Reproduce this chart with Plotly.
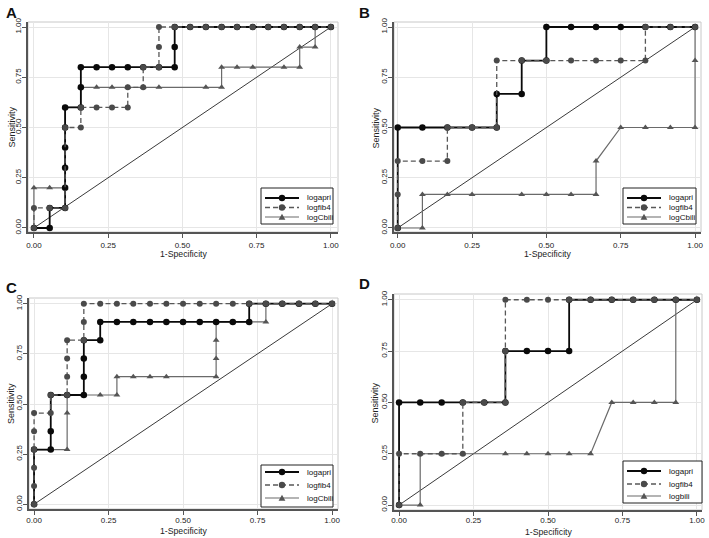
import plotly.graph_objects as go

# ---- datos de las curvas ROC ----
# Panel A
a_apri_x = [0, .053, .053, .105, .105, .105, .105, .105, .105, .158, .158, .158, .211, .263, .316, .368, .421, .474, .474, .474, .526, .579, .632, .684, .737, .789, .842, .895, .947, 1]
a_apri_y = [0, 0, .1, .1, .2, .3, .4, .5, .6, .6, .7, .8, .8, .8, .8, .8, .8, .8, .9, 1, 1, 1, 1, 1, 1, 1, 1, 1, 1, 1]
a_fib4_x = [0, 0, .053, .105, .105, .158, .158, .211, .263, .316, .316, .368, .368, .421, .421, .421, .474, .526, .579, .632, .684, .737, .789, .842, .895, .947, 1]
a_fib4_y = [0, .1, .1, .1, .5, .5, .6, .6, .6, .6, .7, .7, .8, .8, .9, 1, 1, 1, 1, 1, 1, 1, 1, 1, 1, 1, 1]
a_bili_x = [0, 0, .053, .105, .105, .158, .158, .211, .263, .316, .368, .421, .579, .632, .632, .684, .737, .842, .895, .895, .947, .947, 1]
a_bili_y = [0, .2, .2, .2, .6, .6, .7, .7, .7, .7, .7, .7, .7, .7, .8, .8, .8, .8, .8, .9, .9, 1, 1]

# Panel B
b_apri_x = [0, 0, .083, .167, .25, .333, .333, .417, .417, .5, .5, .583, .667, .75, .833, .917, 1]
b_apri_y = [0, .5, .5, .5, .5, .5, .667, .667, .833, .833, 1, 1, 1, 1, 1, 1, 1]
b_fib4_x = [0, 0, 0, .083, .167, .167, .25, .333, .333, .417, .5, .583, .667, .75, .833, .833, .917, 1]
b_fib4_y = [0, .167, .333, .333, .333, .5, .5, .5, .833, .833, .833, .833, .833, .833, .833, 1, 1, 1]
b_bili_x = [0, .083, .083, .167, .25, .417, .5, .583, .667, .667, .75, .833, .917, 1, 1, 1]
b_bili_y = [0, 0, .167, .167, .167, .167, .167, .167, .167, .333, .5, .5, .5, .5, .833, 1]

# Panel C
c_apri_x = [0, 0, .056, .056, .056, .111, .167, .167, .167, .167, .222, .222, .278, .333, .389, .444, .5, .556, .611, .667, .722, .722, .778, .833, .889, .944, 1]
c_apri_y = [0, .273, .273, .364, .545, .545, .545, .636, .727, .818, .818, .909, .909, .909, .909, .909, .909, .909, .909, .909, .909, 1, 1, 1, 1, 1, 1]
c_fib4_x = [0, 0, 0, 0, 0, 0, .056, .056, .111, .111, .111, .111, .167, .167, .167, .222, .278, .333, .389, .444, .5, .556, .611, .667, .722, .778, .833, .889, .944, 1]
c_fib4_y = [0, .091, .182, .273, .364, .455, .455, .545, .545, .636, .727, .818, .818, .909, 1, 1, 1, 1, 1, 1, 1, 1, 1, 1, 1, 1, 1, 1, 1, 1]
c_bili_x = [0, 0, .056, .111, .111, .111, .167, .222, .278, .278, .333, .389, .444, .611, .611, .611, .611, .667, .722, .778, .778, .833, .889, .944, 1]
c_bili_y = [0, .273, .273, .273, .455, .545, .545, .545, .545, .636, .636, .636, .636, .636, .727, .818, .909, .909, .909, .909, 1, 1, 1, 1, 1]

# Panel D
d_apri_x = [0, 0, .071, .143, .214, .286, .357, .357, .429, .5, .571, .571, .643, .714, .786, .857, .929, 1]
d_apri_y = [0, .5, .5, .5, .5, .5, .5, .75, .75, .75, .75, 1, 1, 1, 1, 1, 1, 1]
d_fib4_x = [0, 0, .071, .143, .214, .214, .286, .357, .357, .357, .429, .5, .571, .643, .714, .786, .857, .929, 1]
d_fib4_y = [0, .25, .25, .25, .25, .5, .5, .5, .75, 1, 1, 1, 1, 1, 1, 1, 1, 1, 1]
d_bili_x = [0, .071, .071, .143, .214, .357, .429, .5, .571, .643, .714, .786, .857, .929, .929, 1]
d_bili_y = [0, 0, .25, .25, .25, .25, .25, .25, .25, .25, .5, .5, .5, .5, 1, 1]

# linea de referencia
diag_x = [0, 1]
diag_y = [0, 1]

panel_letters = ["A", "B", "C", "D"]
names_abc = ["logapri", "logfib4", "logCbili"]
names_d = ["logapri", "logfib4", "logbili"]
tick_vals = [0, 0.25, 0.5, 0.75, 1]
tick_text = ["0.00", "0.25", "0.50", "0.75", "1.00"]
x_title = "1-Specificity"
y_title = "Sensitivity"

W, H = 709, 538
FONT = "Liberation Sans, Arial, sans-serif"

# estilos de cada serie
st_apri = dict(color="#0a0a0a", lw=1.8, dash="solid", sym="circle", mcol="#0a0a0a")
st_fib4 = dict(color="#585858", lw=1.3, dash="5px,3px", sym="circle", mcol="#4a4a4a")
st_bili = dict(color="#6a6a6a", lw=1.2, dash="solid", sym="triangle-up", mcol="#555555")

# geometria de cada panel en pixeles: (izq, der), (arriba, abajo), rangos, leyenda, titulos
panels = [
    dict(px=(28, 338), py=(22, 232), xr=[-0.020, 1.024], yr=[-0.020, 1.025],
         data=[(a_apri_x, a_apri_y), (a_fib4_x, a_fib4_y), (a_bili_x, a_bili_y)], names=names_abc,
         leg=(261, 188, 333, 224), rows=[198, 207.5, 217], letter=(4, 2), xt=254, yt=11, xs=1),
    dict(px=(394, 701), py=(22, 232), xr=[-0.0125, 1.020], yr=[-0.020, 1.025],
         data=[(b_apri_x, b_apri_y), (b_fib4_x, b_fib4_y), (b_bili_x, b_bili_y)], names=names_abc,
         leg=(623, 188, 696, 224), rows=[198, 207.5, 217], letter=(357, 2), xt=254, yt=375, xs=1),
    dict(px=(29, 338), py=(298, 509), xr=[-0.017, 1.020], yr=[-0.0235, 1.0285],
         data=[(c_apri_x, c_apri_y), (c_fib4_x, c_fib4_y), (c_bili_x, c_bili_y)], names=names_abc,
         leg=(261, 465, 333, 507), rows=[472, 485, 498], letter=(4, 277), xt=531, yt=11, xs=-1),
    dict(px=(394, 702), py=(294, 510), xr=[-0.017, 1.017], yr=[-0.024, 1.028],
         data=[(d_apri_x, d_apri_y), (d_fib4_x, d_fib4_y), (d_bili_x, d_bili_y)], names=names_d,
         leg=(623, 461, 702, 503), rows=[471, 484, 496], letter=(357, 273), xt=531.5, yt=375, xs=-2),
]


def fx(p):
    return p / W


def fy(p):
    return 1 - p / H


fig = go.Figure()
layout = {}
styles = [st_apri, st_fib4, st_bili]

for i, p in enumerate(panels):
    sfx = "" if i == 0 else str(i + 1)
    xa, ya = "x" + sfx, "y" + sfx

    # referencia diagonal
    fig.add_trace(go.Scatter(x=diag_x, y=diag_y, mode="lines", xaxis=xa, yaxis=ya,
                             line=dict(color="#3a3a3a", width=1), showlegend=False, hoverinfo="skip"))
    # orden de dibujo: bili abajo, luego apri, luego fib4
    for k in [2, 0, 1]:
        xs, ys = p["data"][k]
        st = styles[k]
        fig.add_trace(go.Scatter(
            x=xs, y=ys, mode="lines+markers", xaxis=xa, yaxis=ya, name=p["names"][k],
            line=dict(color=st["color"], width=st["lw"], dash=st["dash"]),
            marker=dict(symbol=st["sym"], size=6 if k != 0 else 6.5, color=st["mcol"], line=dict(width=0)),
            showlegend=False))

    common = dict(tickvals=tick_vals, ticktext=tick_text, showgrid=True, gridcolor="#e6e6e6", gridwidth=1,
                  zeroline=False, showline=True, linecolor="#555", linewidth=1.5, ticks="outside",
                  ticklen=4, tickcolor="#555", tickfont=dict(size=8, family=FONT, color="#222"),
                  automargin=False, fixedrange=True)
    layout["xaxis" + sfx] = dict(common, domain=[fx(p["px"][0]), fx(p["px"][1])], range=p["xr"], anchor=ya,
                                  ticklabelstandoff=p["xs"])
    layout["yaxis" + sfx] = dict(common, domain=[fy(p["py"][1]), fy(p["py"][0])], range=p["yr"], anchor=xa,
                                  tickangle=-90, ticklabelstandoff=-2)

    # titulos de ejes
    fig.add_annotation(text=x_title, xref=xa + " domain", yref="paper", x=0.5, y=fy(p["xt"]),
                       xanchor="center", yanchor="middle", showarrow=False,
                       font=dict(size=8.7, family=FONT, color="#222"))
    fig.add_annotation(text=y_title, xref="paper", yref=ya, x=fx(p["yt"]), y=0.5, textangle=-90,
                       xanchor="center", yanchor="middle", showarrow=False,
                       font=dict(size=9, family=FONT, color="#222"))

    # marco claro del area de trazado
    fig.add_shape(type="rect", xref=xa + " domain", yref=ya + " domain", x0=0, x1=1, y0=0, y1=1,
                  line=dict(color="#c8c8c8", width=1), layer="below")

    # leyenda dibujada a mano (estilo Stata)
    lx0, ly0, lx1, ly1 = p["leg"]
    fig.add_shape(type="rect", xref="paper", yref="paper", x0=fx(lx0), x1=fx(lx1), y0=fy(ly1), y1=fy(ly0),
                  line=dict(color="#222", width=1), fillcolor="white", layer="above")
    for k, ry in enumerate(p["rows"]):
        st = styles[k]
        fig.add_shape(type="line", xref="paper", yref="paper", x0=fx(lx0 + 4), x1=fx(lx0 + 38),
                      y0=fy(ry), y1=fy(ry), line=dict(color=st["color"], width=st["lw"], dash=st["dash"]))
        cx = lx0 + 21
        if st["sym"] == "circle":
            r = 3.2
            fig.add_shape(type="circle", xref="paper", yref="paper", x0=fx(cx - r), x1=fx(cx + r),
                          y0=fy(ry + r), y1=fy(ry - r), fillcolor=st["mcol"], line=dict(width=0))
        else:
            path = "M {:.5f},{:.5f} L {:.5f},{:.5f} L {:.5f},{:.5f} Z".format(
                fx(cx - 3.4), fy(ry + 2.8), fx(cx + 3.4), fy(ry + 2.8), fx(cx), fy(ry - 3.2))
            fig.add_shape(type="path", xref="paper", yref="paper", path=path,
                          fillcolor=st["mcol"], line=dict(width=0))
        fig.add_annotation(text=p["names"][k], xref="paper", yref="paper", x=fx(lx0 + 44), y=fy(ry),
                           xanchor="left", yanchor="middle", showarrow=False,
                           font=dict(size=8, family=FONT, color="#111"))

    # letra del panel
    fig.add_annotation(text="<b>" + panel_letters[i] + "</b>", xref="paper", yref="paper",
                       x=fx(p["letter"][0]), y=fy(p["letter"][1]), xanchor="left", yanchor="top",
                       showarrow=False, font=dict(size=15, family=FONT, color="#111"))

fig.update_layout(
    width=W, height=H,
    margin=dict(l=0, r=0, t=0, b=0),
    paper_bgcolor="white", plot_bgcolor="white",
    showlegend=False,
    font=dict(family=FONT, size=8, color="#222"),
    **layout
)

# quitar el margen por defecto del body para que la figura ocupe toda la ventana
fig.write_html("out.html", config={"displayModeBar": False},
               post_script="document.body.style.margin='0px';document.body.style.overflow='hidden';")
